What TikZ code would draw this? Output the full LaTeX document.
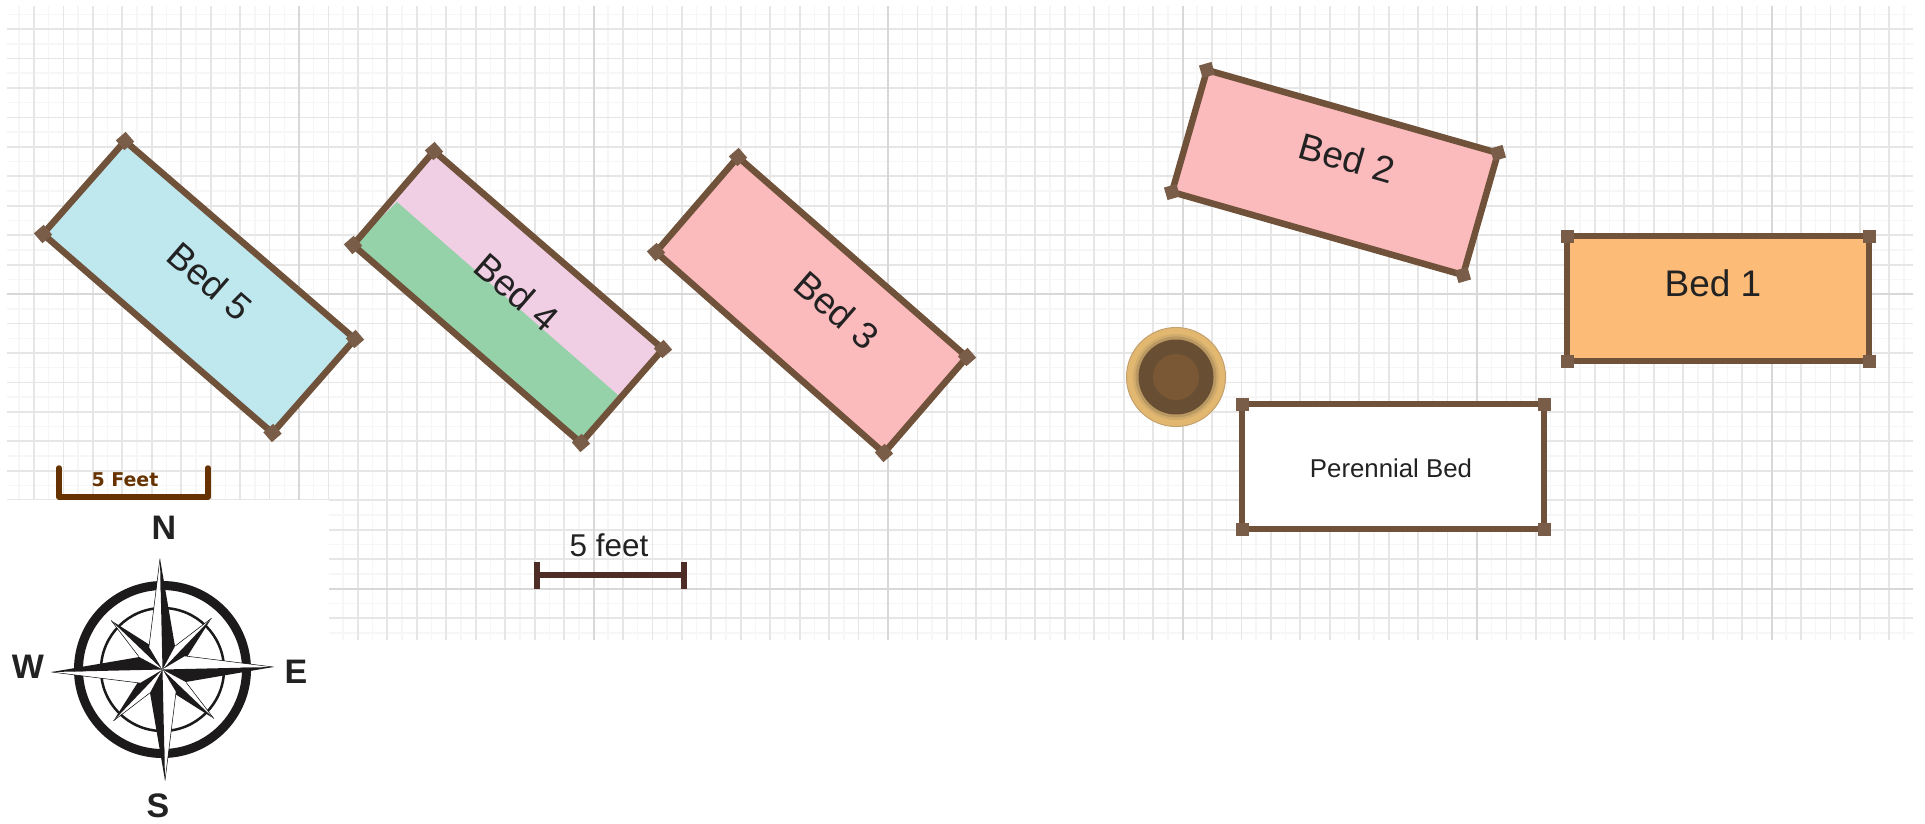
\documentclass[tikz,border=0pt]{standalone}
\usepackage{fontspec}
\setmainfont{Liberation Sans}
\newfontfamily\scalefont{DejaVu Sans}
\definecolor{wood}{HTML}{6F5239}
\definecolor{post}{HTML}{7A5D48}
\definecolor{inkc}{HTML}{222222}
\definecolor{gridfine}{HTML}{F6F6F6}
\definecolor{gridmajor}{HTML}{E6E6E6}
\definecolor{gridheavy}{HTML}{D8D8D8}
\definecolor{bedblue}{HTML}{BFE7EE}
\definecolor{bedpink}{HTML}{F0CFE4}
\definecolor{bedgreen}{HTML}{95D1A9}
\definecolor{bedrose}{HTML}{FBBABC}
\definecolor{bedorange}{HTML}{FDBB78}
\definecolor{barbrown}{HTML}{663300}
\definecolor{bardark}{HTML}{4E2D27}
\definecolor{potrim}{HTML}{E2B870}
\definecolor{potmid}{HTML}{D2AC6C}
\definecolor{potedge}{HTML}{C4A06E}
\definecolor{potshade}{HTML}{BA9862}
\definecolor{potsoil}{HTML}{684E32}
\definecolor{potcore}{HTML}{7A5836}
\definecolor{compassink}{HTML}{1C1A1B}
\newcommand{\fs}[1]{\fontsize{#1}{#1}\selectfont}
\newcommand{\bedbox}[7]{% fill, angle, four corners, corner name prefix
  \coordinate (#7a) at #3; \coordinate (#7b) at #4; \coordinate (#7c) at #5; \coordinate (#7d) at #6;
  \path[fill=#1] (#7a) -- (#7b) -- (#7c) -- (#7d) -- cycle;
}
\newcommand{\bedframe}[2]{% angle, prefix
  \draw[frame] (#2a) -- (#2b) -- (#2c) -- (#2d) -- cycle;
  \foreach \k in {a,b,c,d} \node[postbox,rotate=#1] at (#2\k) {};
}
\tikzset{
  frame/.style={draw=wood,line width=6.5pt,line join=miter},
  postbox/.style={draw=none,fill=post,minimum size=13pt,inner sep=0pt,outer sep=0pt,shape=rectangle},
  bedlabel/.style={text=inkc,inner sep=0pt,font=\fs{37}},
  letter/.style={text=inkc,inner sep=0pt,font=\fs{34}\bfseries},
  bar/.style={line width=5.5pt},
}
\begin{document}
\begin{tikzpicture}[x=1pt,y=-1pt]
\useasboundingbox (0,0) rectangle (1925,823);
\fill[white] (0,0) rectangle (1925,823);
% grid
\foreach \i in {1,3,...,129} \draw[gridfine,line width=1.5pt] ({4.5+14.725*\i},6) -- ({4.5+14.725*\i},640);
\foreach \j in {1,3,...,43} \draw[gridfine,line width=1.5pt] (7,{-0.4+14.725*\j}) -- (1913,{-0.4+14.725*\j});
\foreach \i in {2,4,...,128} \draw[gridmajor,line width=1.8pt] ({4.5+14.725*\i},6) -- ({4.5+14.725*\i},640);
\foreach \j in {2,4,...,42} \draw[gridmajor,line width=1.8pt] (7,{-0.4+14.725*\j}) -- (1913,{-0.4+14.725*\j});
\foreach \i in {20,40,...,120} \draw[gridheavy,line width=2pt] ({4.5+14.725*\i},6) -- ({4.5+14.725*\i},640);
\foreach \j in {20,40} \draw[gridheavy,line width=2pt] (7,{-0.4+14.725*\j}) -- (1913,{-0.4+14.725*\j});
\fill[white] (0,500) rectangle (329,823);
% Bed 5
\bedbox{bedblue}{41}{(125,141)}{(355,339)}{(272.5,433)}{(43,234)}{e}
\bedframe{41}{e}
\node[bedlabel,rotate=-41] (bedfive) at (210,281) {Bed 5};
% Bed 4
\bedbox{bedpink}{41}{(434,151)}{(663,349)}{(581,443)}{(353,245)}{f}
\coordinate (divA) at (397,202); \coordinate (divB) at (618,395);
\fill[bedgreen] (divA) -- (divB) -- (fc) -- (fd) -- cycle;
\bedframe{41}{f}
\node[bedlabel,rotate=-41] (bedfour) at (517,292) {Bed 4};
% Bed 3
\bedbox{bedrose}{41}{(738,157)}{(967,357)}{(884,453)}{(656,252)}{g}
\bedframe{41}{g}
\node[bedlabel,rotate=-41] (bedthree) at (837,310) {Bed 3};
% Bed 2
\bedbox{bedrose}{16}{(1207,70)}{(1498,153)}{(1463,275)}{(1172,192)}{h}
\bedframe{16}{h}
\node[bedlabel,rotate=-16] (bedtwo) at (1347,158) {Bed 2};
% Bed 1
\bedbox{bedorange}{0}{(1567,236)}{(1869,236)}{(1869,361)}{(1567,361)}{i}
\bedframe{0}{i}
\node[bedlabel] (bedone) at (1713,283.5) {Bed 1};
% Perennial bed
\bedbox{white}{0}{(1242,404)}{(1544,404)}{(1544,529)}{(1242,529)}{j}
\bedframe{0}{j}
\node[bedlabel,font=\fs{25.8}] (perennial) at (1391,468) {Perennial Bed};
% Pot
\coordinate (pot) at (1176,377);
\draw[fill=potrim,draw=potedge,line width=1pt] (pot) circle (49.5);
\fill[potmid] (pot) circle (43);
\fill[potshade] (pot) circle (40.5);
\fill[potsoil] (pot) circle (37.5);
\fill[potcore] (pot) circle (23);
% scale bars
\coordinate (sa) at (59,468); \coordinate (sb) at (59,497); \coordinate (sc) at (208,497); \coordinate (sd) at (208,468);
\draw[barbrown,bar,line cap=round,line join=round] (sa) -- (sb) -- (sc) -- (sd);
\node[text=barbrown,inner sep=0pt,font=\scalefont\fs{19}\bfseries] (feetA) at (125,480) {5 Feet};
\coordinate (ta) at (537,575); \coordinate (tb) at (684,575);
\draw[bardark,bar] (ta) -- (tb);
\draw[bardark,bar] ([yshift=-13.5pt]ta) -- ([yshift=13.5pt]ta);
\draw[bardark,bar] ([yshift=-13.5pt]tb) -- ([yshift=13.5pt]tb);
\node[text=inkc,inner sep=0pt,font=\fs{31.5}] (feetB) at (609,545) {5 feet};
% compass
\coordinate (cc) at (162.5,669.5);
\draw[compassink,line width=9pt] (cc) circle (84);
\draw[compassink,line width=2.5pt] (cc) circle (61.5);
\begin{scope}[shift={(cc)},rotate=1.3]
  \foreach \a in {45,135,225,315}{
    \begin{scope}[rotate=\a]
      \fill[white] (0,0) -- (0,-71) -- (-7,-26) -- cycle;
      \draw[black,line width=0.5pt] (-7,-26) -- (0,-71);
      \fill[compassink] (0,0) -- (0,-71) -- (9,-26) -- cycle;
    \end{scope}
  }
  \foreach \a in {0,90,180,270}{
    \begin{scope}[rotate=\a]
      \fill[white] (0,0) -- (0,-111) -- (-13,-23) -- cycle;
      \draw[black,line width=0.5pt] (-13,-23) -- (0,-111);
      \fill[compassink] (0,0) -- (0,-111) -- (13,-23) -- cycle;
    \end{scope}
  }
\end{scope}
\node[letter] (north) at (164,528) {N};
\node[letter] (west) at (28,667) {W};
\node[letter] (east) at (296,672) {E};
\node[letter] (south) at (158,806) {S};
\end{tikzpicture}
\end{document}
